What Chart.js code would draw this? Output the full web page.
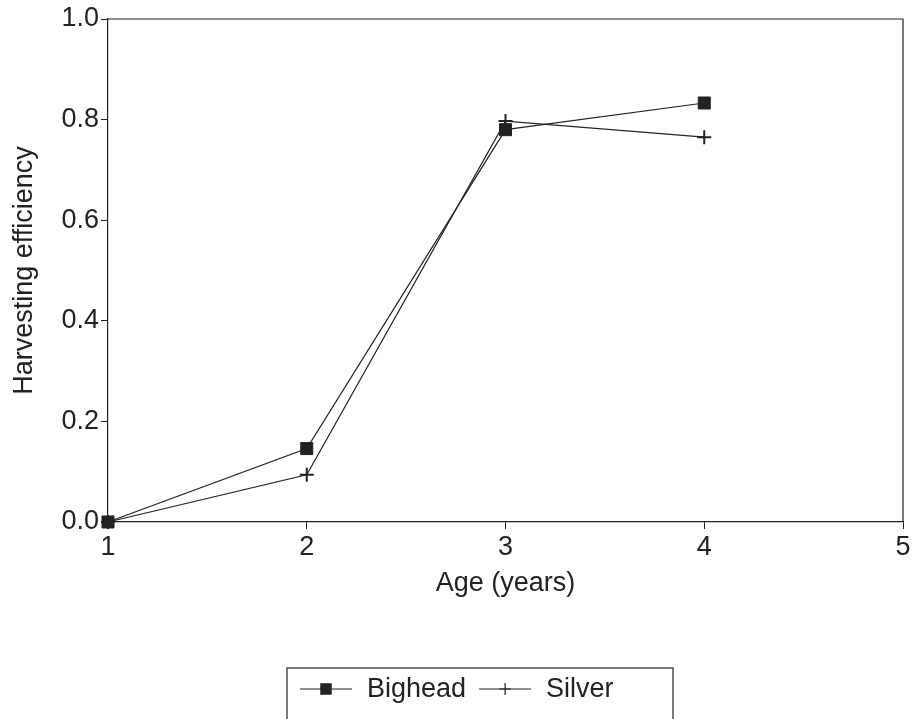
<!DOCTYPE html>
<html>
<head>
<meta charset="utf-8">
<script src="https://cdn.jsdelivr.net/npm/chart.js@4"></script>
<style>
  html, body { margin: 0; padding: 0; background: #fff; }
  #wrap { width: 913px; height: 719px; }
</style>
</head>
<body>
<div id="wrap"><canvas id="chart" width="913" height="719"></canvas></div>
<script>
// ages on the x axis
const ages = [1, 2, 3, 4];
const bighead = [0.0, 0.146, 0.78, 0.833];
const silver = [0.0, 0.094, 0.797, 0.765];
const yTicks = [0, 0.2, 0.4, 0.6, 0.8, 1.0];
const xTicks = [1, 2, 3, 4, 5];

const ink = '#222';
const fam = '"Liberation Sans", Arial, sans-serif';
const font = { family: fam, size: 27 };

// frame on top and right of plot area
const frame = {
    id: 'frame',
    afterDraw(chart) {
        const a = chart.chartArea, c = chart.ctx;
        c.save();
        c.strokeStyle = ink;
        c.lineWidth = 1.2;
        c.beginPath();
        c.moveTo(a.left, a.top);
        c.lineTo(a.right, a.top);
        c.lineTo(a.right, a.bottom);
        c.stroke();
        c.restore();
    }
};

// legend in a box, line + marker style
const boxLegend = {
    id: 'boxLegend',
    afterDraw(chart) {
        const c = chart.ctx;
        const y = 689;
        c.save();
        c.strokeStyle = ink;
        c.lineWidth = 1.2;
        c.strokeRect(287, 668, 386, 60);
        c.font = '27px ' + fam;
        c.fillStyle = ink;
        c.textBaseline = 'middle';
        let x = 300;
        chart.data.datasets.forEach(ds => {
            c.beginPath();
            c.moveTo(x, y);
            c.lineTo(x + 52, y);
            c.stroke();
            Chart.helpers.drawPoint(c, {
                pointStyle: ds.pointStyle,
                radius: ds.pointRadius * 0.85,
                borderWidth: ds.pointBorderWidth
            }, x + 26, y);
            c.fillText(ds.label, x + 67, y + 1);
            x += 67 + c.measureText(ds.label).width + 13;
        });
        c.restore();
    }
};

new Chart(document.getElementById('chart'), {
    type: 'line',
    data: {
        datasets: [{
            label: 'Bighead',
            data: ages.map((a, i) => ({ x: a, y: bighead[i] })),
            borderColor: ink,
            backgroundColor: ink,
            borderWidth: 1.2,
            pointStyle: 'rect',
            pointRadius: 8.5,
            pointBorderWidth: 1,
            clip: false
        }, {
            label: 'Silver',
            data: ages.map((a, i) => ({ x: a, y: silver[i] })),
            borderColor: ink,
            backgroundColor: ink,
            borderWidth: 1.2,
            pointStyle: 'cross',
            pointRadius: 7,
            pointBorderWidth: 2,
            clip: false
        }]
    },
    options: {
        responsive: false,
        animation: false,
        layout: { padding: { left: 6, top: 19, right: 10, bottom: 115 } },
        plugins: { legend: { display: false }, tooltip: { enabled: false } },
        scales: {
            x: {
                type: 'linear',
                min: 1, max: 5,
                afterBuildTicks: s => { s.ticks = xTicks.map(v => ({ value: v })); },
                afterFit: s => { s.height = 82; },
                grid: { drawOnChartArea: false, color: ink, tickLength: 7 },
                border: { color: ink, width: 1.2 },
                ticks: { color: ink, font: font, padding: 2, maxRotation: 0 },
                title: { display: true, text: 'Age (years)', color: ink, font: font, padding: { top: 2, bottom: 4 } }
            },
            y: {
                min: 0, max: 1,
                afterBuildTicks: s => { s.ticks = yTicks.map(v => ({ value: v })); },
                afterFit: s => { s.width = 102; },
                grid: { drawOnChartArea: false, color: ink, tickLength: 7 },
                border: { color: ink, width: 1.2 },
                ticks: { color: ink, font: font, padding: 2, callback: v => v.toFixed(1) },
                title: { display: true, text: 'Harvesting efficiency', color: ink, font: font, padding: { top: 2, bottom: 4 } }
            }
        }
    },
    plugins: [frame, boxLegend]
});
</script>
</body>
</html>
